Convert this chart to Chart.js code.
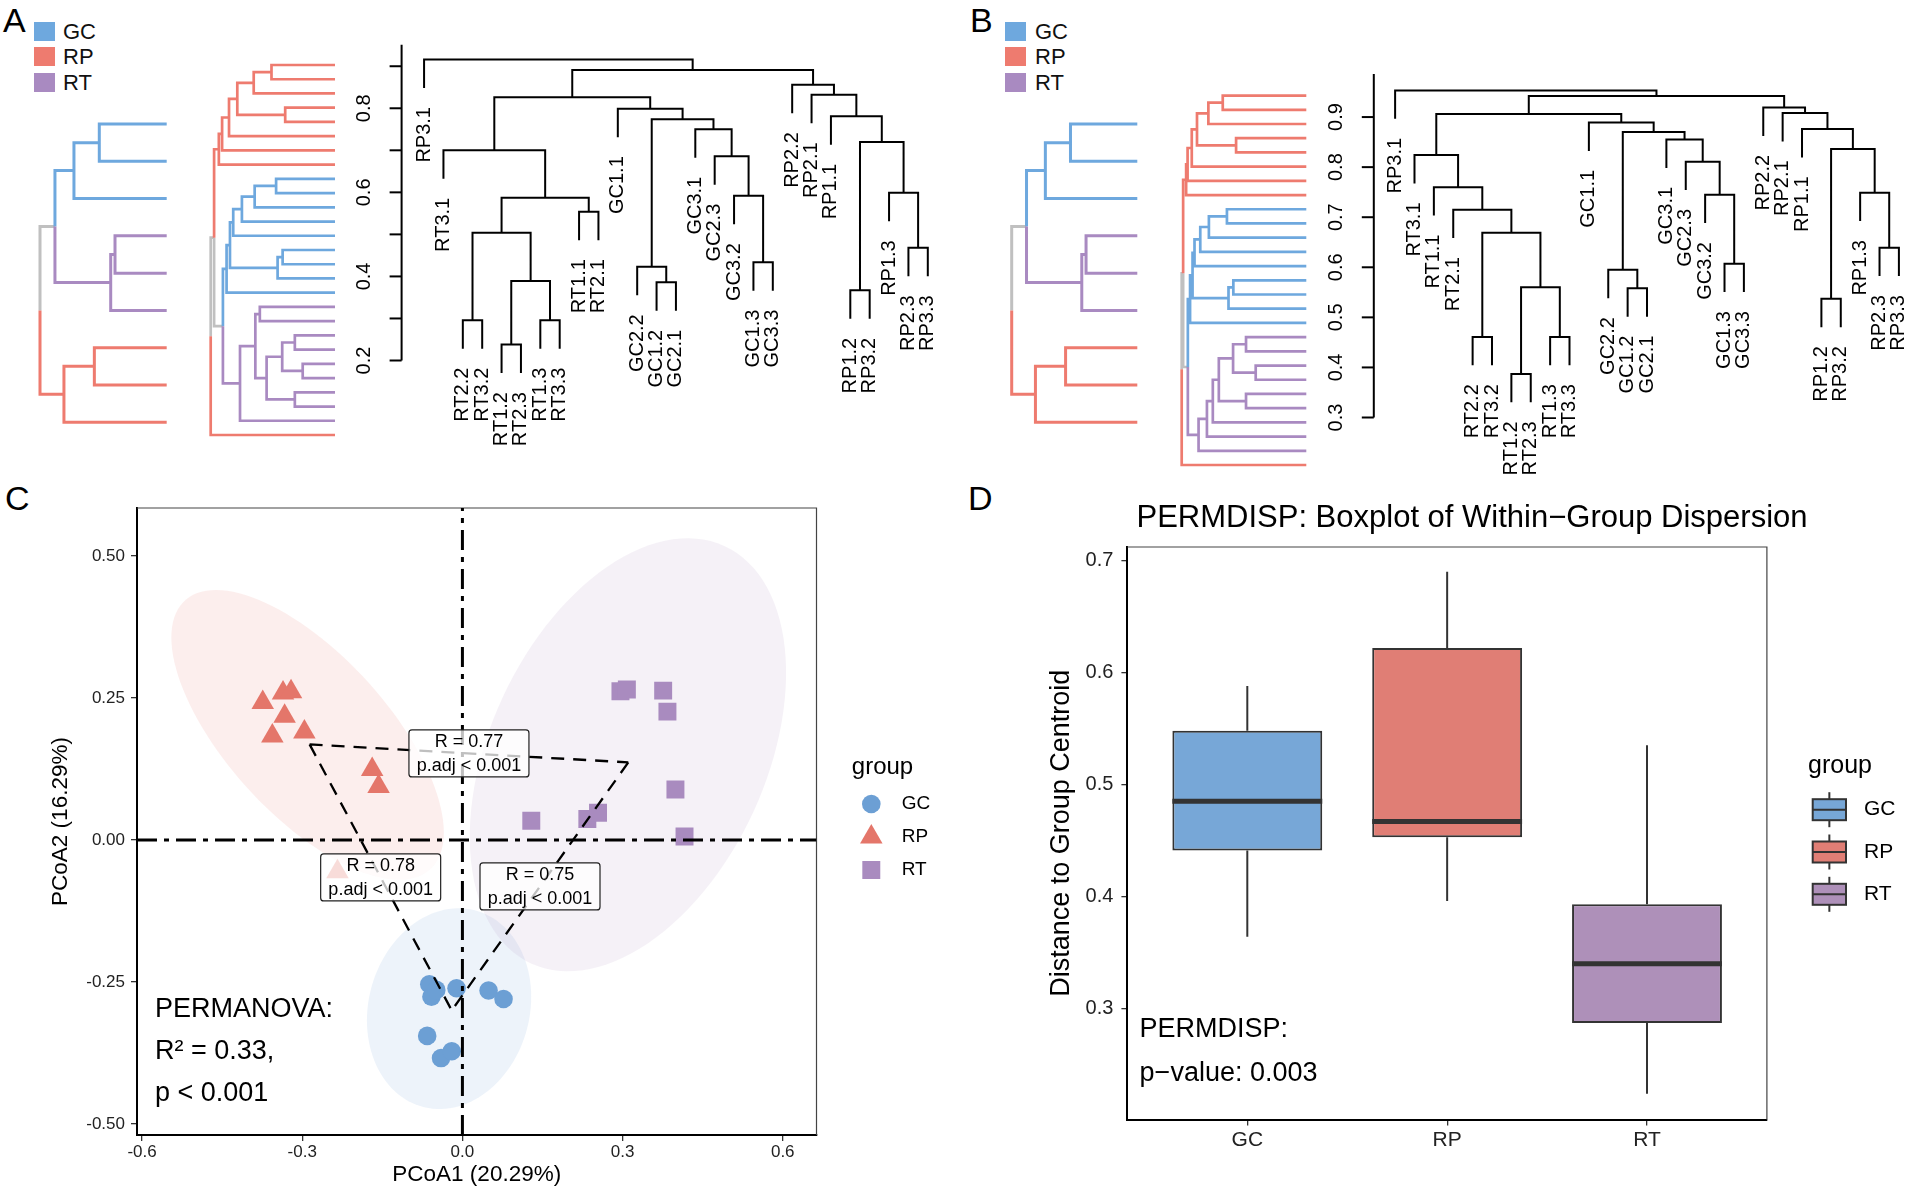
<!DOCTYPE html>
<html>
<head>
<meta charset="utf-8">
<title>Clustering, PCoA and PERMDISP</title>
<script src="https://cdn.jsdelivr.net/npm/chart.js@4.4.1/dist/chart.umd.min.js"></script>
<style>
  html, body { margin: 0; padding: 0; background: #fff; }
  body { position: relative; width: 1908px; height: 1190px; overflow: hidden;
         font-family: "Liberation Sans", Arial, sans-serif; color: #000; }
  canvas { position: absolute; }
  .tag { position: absolute; font-size: 34px; line-height: 34px; }
  .sw { position: absolute; width: 21px; height: 19px; }
  .swt { position: absolute; font-size: 22px; line-height: 22px; color: #111; }
</style>
</head>
<body>
<div class="tag" style="left:3px;top:3px">A</div>
<div class="tag" style="left:970px;top:3px">B</div>
<div class="tag" style="left:5px;top:481px">C</div>
<div class="tag" style="left:968px;top:481px">D</div>
<script>
// ---------- data ----------
const GROUP_NAMES = ['GC', 'RP', 'RT'];

// A: hierarchical clustering, leaves in plotted order (left to right)
const LEAVES_A = ['RP3.1', 'RT3.1', 'RT2.2', 'RT3.2', 'RT1.2', 'RT2.3', 'RT1.3', 'RT3.3', 'RT1.1', 'RT2.1',
  'GC1.1', 'GC2.2', 'GC1.2', 'GC2.1', 'GC3.1', 'GC2.3', 'GC3.2', 'GC1.3', 'GC3.3',
  'RP2.2', 'RP2.1', 'RP1.1', 'RP1.2', 'RP3.2', 'RP1.3', 'RP2.3', 'RP3.3'];
// merge steps, hclust style: negative = leaf position, positive = earlier step
const MERGE_A = [[-5, -6], [-3, -4], [-7, -8], [-23, -24], [-13, -14], [1, 3], [-12, 5], [-18, -19], [-26, -27],
  [2, 6], [-9, -10], [10, 11], [-17, 8], [-25, 9], [-16, 13], [-2, 12], [4, 14], [-15, 15], [7, 18],
  [-22, 17], [-11, 19], [16, 21], [-21, 20], [-20, 23], [22, 24], [-1, 25]];
const HEIGHT_A = [0.238, 0.296, 0.296, 0.367, 0.386, 0.389, 0.423, 0.434, 0.468, 0.504, 0.554, 0.587, 0.592,
  0.599, 0.686, 0.700, 0.720, 0.750, 0.774, 0.781, 0.799, 0.826, 0.832, 0.856, 0.891, 0.916];
const TICKS_A = [0.2, 0.3, 0.4, 0.5, 0.6, 0.7, 0.8, 0.9];
const TICK_LABELS_A = ['0.2', '', '0.4', '', '0.6', '', '0.8', ''];

// B
const LEAVES_B = ['RP3.1', 'RT3.1', 'RT1.1', 'RT2.1', 'RT2.2', 'RT3.2', 'RT1.2', 'RT2.3', 'RT1.3', 'RT3.3',
  'GC1.1', 'GC2.2', 'GC1.2', 'GC2.1', 'GC3.1', 'GC2.3', 'GC3.2', 'GC1.3', 'GC3.3',
  'RP2.2', 'RP2.1', 'RP1.1', 'RP1.2', 'RP3.2', 'RP1.3', 'RP2.3', 'RP3.3'];
const MERGE_B = [[-7, -8], [-5, -6], [-9, -10], [-23, -24], [-13, -14], [1, 3], [-12, 5], [-18, -19], [-26, -27],
  [2, 6], [-4, 10], [-17, 8], [-25, 9], [-3, 11], [-16, 12], [-2, 14], [4, 13], [-15, 15], [7, 18],
  [-22, 17], [-11, 19], [16, 21], [-21, 20], [-20, 23], [22, 24], [-1, 25]];
const HEIGHT_B = [0.387, 0.461, 0.461, 0.537, 0.558, 0.560, 0.595, 0.607, 0.639, 0.669, 0.715, 0.745, 0.749,
  0.760, 0.811, 0.824, 0.836, 0.855, 0.870, 0.876, 0.889, 0.906, 0.908, 0.919, 0.942, 0.953];
const TICKS_B = [0.3, 0.4, 0.5, 0.6, 0.7, 0.8, 0.9];
const TICK_LABELS_B = ['0.3', '0.4', '0.5', '0.6', '0.7', '0.8', '0.9'];

// small group-level trees (top to bottom)
const SMALL_GROUPS = ['GC', 'GC', 'GC', 'RT', 'RT', 'RT', 'RP', 'RP', 'RP'];
const SMALL_MERGE = [[-4, -5], [1, -6], [-1, -2], [-7, -8], [-3, 3], [-9, 4], [5, 2], [7, 6]];
const SMALL_HEIGHT = [0.408, 0.442, 0.532, 0.571, 0.732, 0.811, 0.882, 1.0];

// C: PCoA scores
const GC_X = [-0.062, -0.058, -0.049, -0.011, 0.049, 0.077, -0.066, -0.040, -0.020];
const GC_Y = [-0.254, -0.276, -0.264, -0.261, -0.265, -0.280, -0.345, -0.384, -0.372];
const RP_X = [-0.374, -0.336, -0.321, -0.333, -0.356, -0.296, -0.169, -0.157, -0.234];
const RP_Y = [0.242, 0.259, 0.261, 0.218, 0.183, 0.190, 0.124, 0.094, -0.056];
const RT_X = [0.296, 0.308, 0.376, 0.384, 0.399, 0.416, 0.129, 0.234, 0.254];
const RT_Y = [0.262, 0.265, 0.263, 0.226, 0.089, 0.006, 0.034, 0.037, 0.048];
// confidence ellipses (GC, RP, RT)
const ELLIPSE_X = [-0.025, -0.29, 0.31];
const ELLIPSE_Y = [-0.297, 0.185, 0.15];
const ELLIPSE_A = [0.18, 0.33, 0.41];
const ELLIPSE_B = [0.15, 0.146, 0.255];
const ELLIPSE_ANGLE = [70, -45, 62];
// pairwise tests
const PAIR_FROM = ['RP', 'RP', 'RT'];
const PAIR_TO = ['RT', 'GC', 'GC'];
const PAIR_R = ['0.77', '0.78', '0.75'];
const PAIR_P = ['< 0.001', '< 0.001', '< 0.001'];
const C_X_TICKS = [-0.6, -0.3, 0, 0.3, 0.6];
const C_X_LABELS = ['-0.6', '-0.3', '0.0', '0.3', '0.6'];
const C_Y_TICKS = [-0.5, -0.25, 0, 0.25, 0.5];
const C_Y_LABELS = ['-0.50', '-0.25', '0.00', '0.25', '0.50'];

// D: distance to centroid
const BOX_LOW = [0.364, 0.396, 0.224];
const BOX_Q1 = [0.441, 0.453, 0.287];
const BOX_MED = [0.485, 0.467, 0.340];
const BOX_Q3 = [0.548, 0.622, 0.393];
const BOX_HIGH = [0.588, 0.690, 0.535];
const D_Y_TICKS = [0.3, 0.4, 0.5, 0.6, 0.7];

// ---------- styles ----------
const FAMILY = '"Liberation Sans", Arial, sans-serif';
const font = size => size + 'px ' + FAMILY;
const TREE_COLORS = { GC: '#6EA8DE', RP: '#EE7B6F', RT: '#A98AC1' };
const TREE_MIXED = '#C0C0C0';
const POINT_COLORS = { GC: '#6C9FD4', RP: '#E4766A', RT: '#A98BBF' };
const BOX_COLORS = { GC: '#77A7D7', RP: '#E07E75', RT: '#AE90B9' };
const POINT_STYLE = { GC: ['circle', 9.3], RP: ['triangle', 13], RT: ['rect', 12.7] };

const groupOf = label => label.slice(0, 2);
const mean = a => a.reduce((s, v) => s + v, 0) / a.length;
const hexA = (hex, a) => {
    const n = parseInt(hex.slice(1), 16);
    return `rgba(${n >> 16},${(n >> 8) & 255},${n & 255},${a})`;
};

// dendrogram legends
[[34, 63], [1005, 1035]].forEach(([sx, tx]) => {
    GROUP_NAMES.forEach((g, i) => {
        const sq = document.createElement('div');
        sq.className = 'sw';
        sq.style.cssText = `left:${sx}px;top:${21.5 + i * 25.8}px;background:${TREE_COLORS[g]}`;
        document.body.appendChild(sq);
        const t = document.createElement('div');
        t.className = 'swt';
        t.style.cssText = `left:${tx}px;top:${20.5 + i * 25.9}px`;
        t.textContent = g;
        document.body.appendChild(t);
    });
});

// ---------- helpers ----------
const makeCanvas = box => {
    const c = document.createElement('canvas');
    c.width = box[2];
    c.height = box[3];
    c.style.left = box[0] + 'px';
    c.style.top = box[1] + 'px';
    document.body.appendChild(c);
    return c;
};
const padFor = (box, area) => ({
    left: area[0] - box[0], top: area[1] - box[1],
    right: box[0] + box[2] - area[2], bottom: box[1] + box[3] - area[3]
});

// build node positions from a merge table
const buildTree = (groups, merge, height) => {
    const nodes = [];
    const pick = k => k < 0 ? { pos: -k, h: 0, group: groups[-k - 1], leaf: true, index: -k - 1 } : nodes[k - 1];
    merge.forEach((m, i) => {
        const a = pick(m[0]), b = pick(m[1]);
        nodes.push({ pos: (a.pos + b.pos) / 2, h: height[i], group: a.group && a.group === b.group ? a.group : null, kids: [a, b] });
    });
    return nodes;
};

// edges of a tree lying on its side (root left, leaves right)
const sideEdges = nodes => {
    const edges = [];
    nodes.forEach(n => n.kids.forEach(k => edges.push({
        group: k.group,
        pts: [{ x: n.h, y: n.pos }, { x: n.h, y: k.pos }, { x: k.h, y: k.pos }]
    })));
    return edges;
};

const edgeDatasets = (edges, colorOf, width) => {
    const byColor = {};
    edges.forEach(e => {
        const c = colorOf(e.group);
        (byColor[c] = byColor[c] || []).push(...e.pts, { x: null, y: null });
    });
    return Object.keys(byColor).map(c => ({
        data: byColor[c], showLine: true, spanGaps: false, borderColor: c, borderWidth: width,
        pointRadius: 0, clip: false, borderJoinStyle: 'miter'
    }));
};

const treeChart = (box, area, datasets, xOpt, yOpt, plugins) => new Chart(makeCanvas(box), {
    type: 'scatter',
    data: { datasets },
    options: {
        responsive: false, animation: false, events: [],
        layout: { padding: padFor(box, area) },
        plugins: { legend: { display: false }, tooltip: { enabled: false } },
        scales: {
            x: Object.assign({ type: 'linear', display: false }, xOpt),
            y: Object.assign({ type: 'linear', display: false }, yOpt)
        }
    },
    plugins: plugins || []
});

const colorByGroup = g => g ? TREE_COLORS[g] : TREE_MIXED;

// small group-level trees
const smallNodes = buildTree(SMALL_GROUPS, SMALL_MERGE, SMALL_HEIGHT);
[[[0, 100, 200, 340], [40, 124, 166.7, 422.3]], [[960, 100, 200, 340], [1011.7, 124, 1137.3, 422.3]]]
    .forEach(([box, area]) => treeChart(box, area, edgeDatasets(sideEdges(smallNodes), colorByGroup, 3),
        { min: 0, max: Math.max(...SMALL_HEIGHT), reverse: true },
        { min: 1, max: SMALL_GROUPS.length, reverse: true }));

// coloured sample trees on their side
const coloredTree = (leaves, merge, height, box, area) => {
    const nodes = buildTree(leaves.map(groupOf), merge, height);
    treeChart(box, area, edgeDatasets(sideEdges(nodes), colorByGroup, 2.7),
        { min: 0, max: Math.max(...height), reverse: true },
        { min: 1, max: leaves.length });
};
coloredTree(LEAVES_A, MERGE_A, HEIGHT_A, [190, 50, 160, 400], [210.7, 65, 335, 435]);
coloredTree(LEAVES_B, MERGE_B, HEIGHT_B, [1160, 80, 160, 400], [1181.7, 95.6, 1306.3, 465]);

// upright black trees with labels and height axis
const mainTree = (leaves, merge, height, ticks, tickLabels, box, area, xMin, yMin, yMax) => {
    const nodes = buildTree(leaves.map(groupOf), merge, height);
    const hang = 0.1 * (Math.max(...height) - Math.min(...height));
    const bottoms = [];
    const edges = [];
    nodes.forEach(n => n.kids.forEach(k => {
        const end = k.leaf ? n.h - hang : k.h;
        if (k.leaf) bottoms[k.index] = end;
        edges.push({ group: null, pts: [{ x: n.pos, y: n.h }, { x: k.pos, y: n.h }, { x: k.pos, y: end }] });
    }));
    const axisPlugin = {
        id: 'treeAxis',
        afterDatasetsDraw(chart) {
            const { ctx, chartArea: a, scales: { x, y } } = chart;
            ctx.save();
            ctx.strokeStyle = '#000';
            ctx.fillStyle = '#000';
            ctx.lineWidth = 2;
            ctx.beginPath();
            ctx.moveTo(a.left, y.getPixelForValue(ticks[0]));
            ctx.lineTo(a.left, a.top);
            ctx.stroke();
            ctx.font = font(20);
            ticks.forEach((t, i) => {
                const py = y.getPixelForValue(t);
                ctx.beginPath();
                ctx.moveTo(a.left, py);
                ctx.lineTo(a.left - 12, py);
                ctx.stroke();
                if (!tickLabels[i]) return;
                ctx.save();
                ctx.translate(a.left - 37, py);
                ctx.rotate(-Math.PI / 2);
                ctx.textAlign = 'center';
                ctx.textBaseline = 'middle';
                ctx.fillText(tickLabels[i], 0, 0);
                ctx.restore();
            });
            leaves.forEach((name, i) => {
                ctx.save();
                ctx.translate(x.getPixelForValue(i + 1), y.getPixelForValue(bottoms[i]) + 19);
                ctx.rotate(-Math.PI / 2);
                ctx.textAlign = 'right';
                ctx.textBaseline = 'middle';
                ctx.fillText(name, 0, 0);
                ctx.restore();
            });
            ctx.restore();
        }
    };
    treeChart(box, area, edgeDatasets(edges, () => '#000', 2),
        { min: xMin, max: leaves.length }, { min: yMin, max: yMax }, [axisPlugin]);
};
mainTree(LEAVES_A, MERGE_A, HEIGHT_A, TICKS_A, TICK_LABELS_A, [340, 0, 614, 480], [401.6, 44.8, 927.8, 360.5], -0.16, 0.2, 0.951);
mainTree(LEAVES_B, MERGE_B, HEIGHT_B, TICKS_B, TICK_LABELS_B, [1320, 0, 588, 480], [1373.8, 74, 1898.9, 417.5], -0.1, 0.3, 0.986);

// ---------- shared bits for C and D ----------
const frame = {
    id: 'frame',
    beforeDatasetsDraw(chart) {
        const { ctx, chartArea: a } = chart;
        ctx.save();
        ctx.strokeStyle = '#444';
        ctx.lineWidth = 1.2;
        ctx.beginPath();
        ctx.moveTo(a.left, a.top);
        ctx.lineTo(a.right, a.top);
        ctx.lineTo(a.right, a.bottom);
        ctx.stroke();
        ctx.restore();
    }
};

const symbol = (ctx, style, x, y, r) => {
    ctx.beginPath();
    if (style === 'circle') {
        ctx.arc(x, y, r, 0, 2 * Math.PI);
    } else if (style === 'triangle') {
        for (let k = 0; k < 3; k++) {
            const t = k * 2 * Math.PI / 3;
            const px = x + Math.sin(t) * r, py = y - Math.cos(t) * r;
            k ? ctx.lineTo(px, py) : ctx.moveTo(px, py);
        }
        ctx.closePath();
    } else {
        const s = r * Math.SQRT1_2;
        ctx.rect(x - s, y - s, 2 * s, 2 * s);
    }
    ctx.fill();
};

const axisCommon = (size, tickLength, padding, callback) => ({
    ticks: { font: { family: FAMILY, size }, color: '#222', padding, autoSkip: false, maxRotation: 0, callback },
    grid: { display: true, drawOnChartArea: false, drawTicks: true, tickLength, color: '#333', lineWidth: 1.3, offset: false },
    border: { display: true, color: '#000', width: 2 }
});

// ---------- C: PCoA ----------
const C_BOX = [0, 480, 954, 710];
const C_X_MIN = -0.6095, C_X_MAX = 0.6632, C_Y_MIN = -0.5195, C_Y_MAX = 0.5846;
const PCOA = { GC: [GC_X, GC_Y], RP: [RP_X, RP_Y], RT: [RT_X, RT_Y] };
const CENTROID = {};
GROUP_NAMES.forEach(g => { CENTROID[g] = { x: mean(PCOA[g][0]), y: mean(PCOA[g][1]) }; });

const pointSets = GROUP_NAMES.map(g => ({
    label: g,
    data: PCOA[g][0].map((x, i) => ({ x, y: PCOA[g][1][i] })),
    pointStyle: POINT_STYLE[g][0], pointRadius: POINT_STYLE[g][1],
    backgroundColor: POINT_COLORS[g], borderWidth: 0, order: 3
}));
const pairLines = [];
PAIR_FROM.forEach((f, i) => pairLines.push(CENTROID[f], CENTROID[PAIR_TO[i]], { x: null, y: null }));

const ellipses = {
    id: 'ellipses',
    beforeDatasetsDraw(chart) {
        const { ctx, chartArea: a, scales: { x, y } } = chart;
        ctx.save();
        ctx.beginPath();
        ctx.rect(a.left, a.top, a.right - a.left, a.bottom - a.top);
        ctx.clip();
        GROUP_NAMES.forEach((g, i) => {
            const th = ELLIPSE_ANGLE[i] * Math.PI / 180;
            ctx.beginPath();
            for (let k = 0; k <= 120; k++) {
                const t = k / 120 * 2 * Math.PI;
                const ex = ELLIPSE_X[i] + ELLIPSE_A[i] * Math.cos(t) * Math.cos(th) - ELLIPSE_B[i] * Math.sin(t) * Math.sin(th);
                const ey = ELLIPSE_Y[i] + ELLIPSE_A[i] * Math.cos(t) * Math.sin(th) + ELLIPSE_B[i] * Math.sin(t) * Math.cos(th);
                const px = x.getPixelForValue(ex), py = y.getPixelForValue(ey);
                k ? ctx.lineTo(px, py) : ctx.moveTo(px, py);
            }
            ctx.closePath();
            ctx.fillStyle = hexA(POINT_COLORS[g], 0.12);
            ctx.fill();
        });
        ctx.restore();
    }
};

const pairLabels = {
    id: 'pairLabels',
    afterDatasetsDraw(chart) {
        const { ctx, scales: { x, y } } = chart;
        ctx.save();
        PAIR_FROM.forEach((f, i) => {
            const p = CENTROID[f], q = CENTROID[PAIR_TO[i]];
            const cx = x.getPixelForValue((p.x + q.x) / 2), cy = y.getPixelForValue((p.y + q.y) / 2);
            const w = 120, h = 47;
            ctx.beginPath();
            if (ctx.roundRect) ctx.roundRect(cx - w / 2, cy - h / 2, w, h, 3);
            else ctx.rect(cx - w / 2, cy - h / 2, w, h);
            ctx.fillStyle = 'rgba(255,255,255,0.75)';
            ctx.fill();
            ctx.strokeStyle = '#222';
            ctx.lineWidth = 1.2;
            ctx.stroke();
            ctx.fillStyle = '#000';
            ctx.font = font(18);
            ctx.textAlign = 'center';
            ctx.textBaseline = 'middle';
            ctx.fillText('R = ' + PAIR_R[i], cx, cy - 11.5);
            ctx.fillText('p.adj ' + PAIR_P[i], cx, cy + 13);
        });
        ctx.restore();
    }
};

const cTexts = {
    id: 'cTexts',
    afterDraw(chart) {
        const ctx = chart.ctx, ox = C_BOX[0], oy = C_BOX[1];
        ctx.save();
        ctx.fillStyle = '#000';
        ctx.textAlign = 'left';
        ctx.textBaseline = 'alphabetic';
        ctx.font = font(24);
        ctx.fillText('group', 851.8 - ox, 774.4 - oy);
        GROUP_NAMES.forEach((g, i) => {
            const cy = 804 + i * 33 - oy;
            ctx.fillStyle = POINT_COLORS[g];
            symbol(ctx, POINT_STYLE[g][0], 871.3 - ox, cy, POINT_STYLE[g][1]);
            ctx.fillStyle = '#000';
            ctx.font = font(19);
            ctx.textBaseline = 'middle';
            ctx.fillText(g, 901.7 - ox, cy);
        });
        ctx.textBaseline = 'alphabetic';
        ctx.font = font(27);
        ctx.fillText('PERMANOVA:', 155 - ox, 1016.7 - oy);
        ctx.fillText('R\u00B2 = 0.33,', 155 - ox, 1058.8 - oy);
        ctx.fillText('p < 0.001', 155 - ox, 1100.5 - oy);
        ctx.restore();
    }
};

new Chart(makeCanvas(C_BOX), {
    type: 'scatter',
    data: {
        datasets: [
            ...pointSets,
            { data: pairLines, showLine: true, spanGaps: false, borderColor: '#000', borderWidth: 2.3,
              borderDash: [13, 9], pointRadius: 0, order: 2 },
            { data: [{ x: 0, y: C_Y_MIN }, { x: 0, y: C_Y_MAX }, { x: null, y: null }, { x: C_X_MIN, y: 0 }, { x: C_X_MAX, y: 0 }],
              showLine: true, spanGaps: false, borderColor: '#000', borderWidth: 3,
              borderDash: [20, 7, 5, 7], pointRadius: 0, order: 1 }
        ]
    },
    options: {
        responsive: false, animation: false, events: [],
        layout: { padding: { left: 0, top: 28, right: 137.5, bottom: 0 } },
        plugins: { legend: { display: false }, tooltip: { enabled: false } },
        scales: {
            x: Object.assign(axisCommon(17, 6, 1.4, (v, i) => C_X_LABELS[i]), {
                type: 'linear', min: C_X_MIN, max: C_X_MAX,
                afterFit: s => { s.height = 55; },
                afterBuildTicks: s => { s.ticks = C_X_TICKS.map(v => ({ value: v })); },
                title: { display: true, text: 'PCoA1 (20.29%)', color: '#000', font: { family: FAMILY, size: 22.5 }, padding: { top: 0, bottom: 2 } }
            }),
            y: Object.assign(axisCommon(17, 6, 6, (v, i) => C_Y_LABELS[i]), {
                type: 'linear', min: C_Y_MIN, max: C_Y_MAX,
                afterFit: s => { s.width = 137; },
                afterBuildTicks: s => { s.ticks = C_Y_TICKS.map(v => ({ value: v })); },
                title: { display: true, text: 'PCoA2 (16.29%)', color: '#000', font: { family: FAMILY, size: 22.5 }, padding: { top: 47, bottom: 0 } }
            })
        }
    },
    plugins: [ellipses, frame, pairLabels, cTexts]
});

// ---------- D: PERMDISP boxplot ----------
const D_BOX = [954, 480, 954, 710];
const BOX_WIDTH = 0.75;
const whiskers = [], medians = [];
GROUP_NAMES.forEach((g, i) => {
    whiskers.push({ x: i + 1, y: BOX_LOW[i] }, { x: i + 1, y: BOX_Q1[i] }, { x: null, y: null },
        { x: i + 1, y: BOX_Q3[i] }, { x: i + 1, y: BOX_HIGH[i] }, { x: null, y: null });
    medians.push({ x: i + 1 - BOX_WIDTH / 2, y: BOX_MED[i] }, { x: i + 1 + BOX_WIDTH / 2, y: BOX_MED[i] }, { x: null, y: null });
});

const dTexts = {
    id: 'dTexts',
    afterDraw(chart) {
        const { ctx, chartArea: a, scales: { x } } = chart;
        const ox = D_BOX[0], oy = D_BOX[1];
        ctx.save();
        ctx.fillStyle = '#222';
        ctx.font = font(21);
        ctx.textAlign = 'center';
        ctx.textBaseline = 'middle';
        GROUP_NAMES.forEach((g, i) => ctx.fillText(g, x.getPixelForValue(i + 1), a.bottom + 21));
        ctx.fillStyle = '#000';
        ctx.textBaseline = 'alphabetic';
        ctx.font = font(31);
        ctx.fillText('PERMDISP: Boxplot of Within\u2212Group Dispersion', 1472 - ox, 526.6 - oy);
        ctx.textAlign = 'left';
        ctx.font = font(27);
        ctx.fillText('PERMDISP:', 1139.6 - ox, 1037 - oy);
        ctx.fillText('p\u2212value: 0.003', 1139.6 - ox, 1081 - oy);
        ctx.font = font(25);
        ctx.fillText('group', 1808 - ox, 773 - oy);
        GROUP_NAMES.forEach((g, i) => {
            const cy = 809.7 + i * 42.3 - oy, lx = 1812.7 - ox, w = 33.3, h = 21, mx = lx + w / 2;
            ctx.strokeStyle = '#333';
            ctx.lineWidth = 2;
            ctx.beginPath();
            ctx.moveTo(mx, cy - h / 2 - 7);
            ctx.lineTo(mx, cy + h / 2 + 7);
            ctx.stroke();
            ctx.fillStyle = BOX_COLORS[g];
            ctx.fillRect(lx, cy - h / 2, w, h);
            ctx.strokeRect(lx, cy - h / 2, w, h);
            ctx.beginPath();
            ctx.moveTo(lx, cy);
            ctx.lineTo(lx + w, cy);
            ctx.stroke();
            ctx.fillStyle = '#000';
            ctx.font = font(21);
            ctx.textBaseline = 'middle';
            ctx.fillText(g, 1864 - ox, cy);
            ctx.textBaseline = 'alphabetic';
        });
        ctx.restore();
    }
};

new Chart(makeCanvas(D_BOX), {
    type: 'bar',
    data: {
        datasets: [
            { type: 'bar', data: GROUP_NAMES.map((g, i) => ({ x: i + 1, y: [BOX_Q1[i], BOX_Q3[i]] })),
              backgroundColor: GROUP_NAMES.map(g => BOX_COLORS[g]), borderColor: '#333', borderWidth: 2,
              borderSkipped: false, barPercentage: BOX_WIDTH, categoryPercentage: 1, order: 2 },
            { type: 'line', data: whiskers, borderColor: '#333', borderWidth: 2, pointRadius: 0,
              spanGaps: false, fill: false, order: 3 },
            { type: 'line', data: medians, borderColor: '#333', borderWidth: 5, pointRadius: 0,
              spanGaps: false, fill: false, order: 1 }
        ]
    },
    options: {
        responsive: false, animation: false, events: [],
        layout: { padding: { left: 0, top: 67, right: 141.1, bottom: 0 } },
        plugins: { legend: { display: false }, tooltip: { enabled: false } },
        scales: {
            x: Object.assign(axisCommon(21, 6, 3, () => ''), {
                type: 'linear', min: 0.4, max: 3.6, offset: false, bounds: 'data',
                afterFit: s => { s.height = 70.5; },
                afterBuildTicks: s => { s.ticks = GROUP_NAMES.map((g, i) => ({ value: i + 1 })); }
            }),
            y: Object.assign(axisCommon(20, 6, 8, v => v.toFixed(1)), {
                type: 'linear', min: 0.2009, max: 0.7121, beginAtZero: false, bounds: 'data',
                afterFit: s => { s.width = 173.4; },
                afterBuildTicks: s => { s.ticks = D_Y_TICKS.map(v => ({ value: v })); },
                title: { display: true, text: 'Distance to Group Centroid', color: '#000', font: { family: FAMILY, size: 27 }, padding: { top: 91.8, bottom: 0 } }
            })
        }
    },
    plugins: [frame, dTexts]
});
</script>
</body>
</html>
